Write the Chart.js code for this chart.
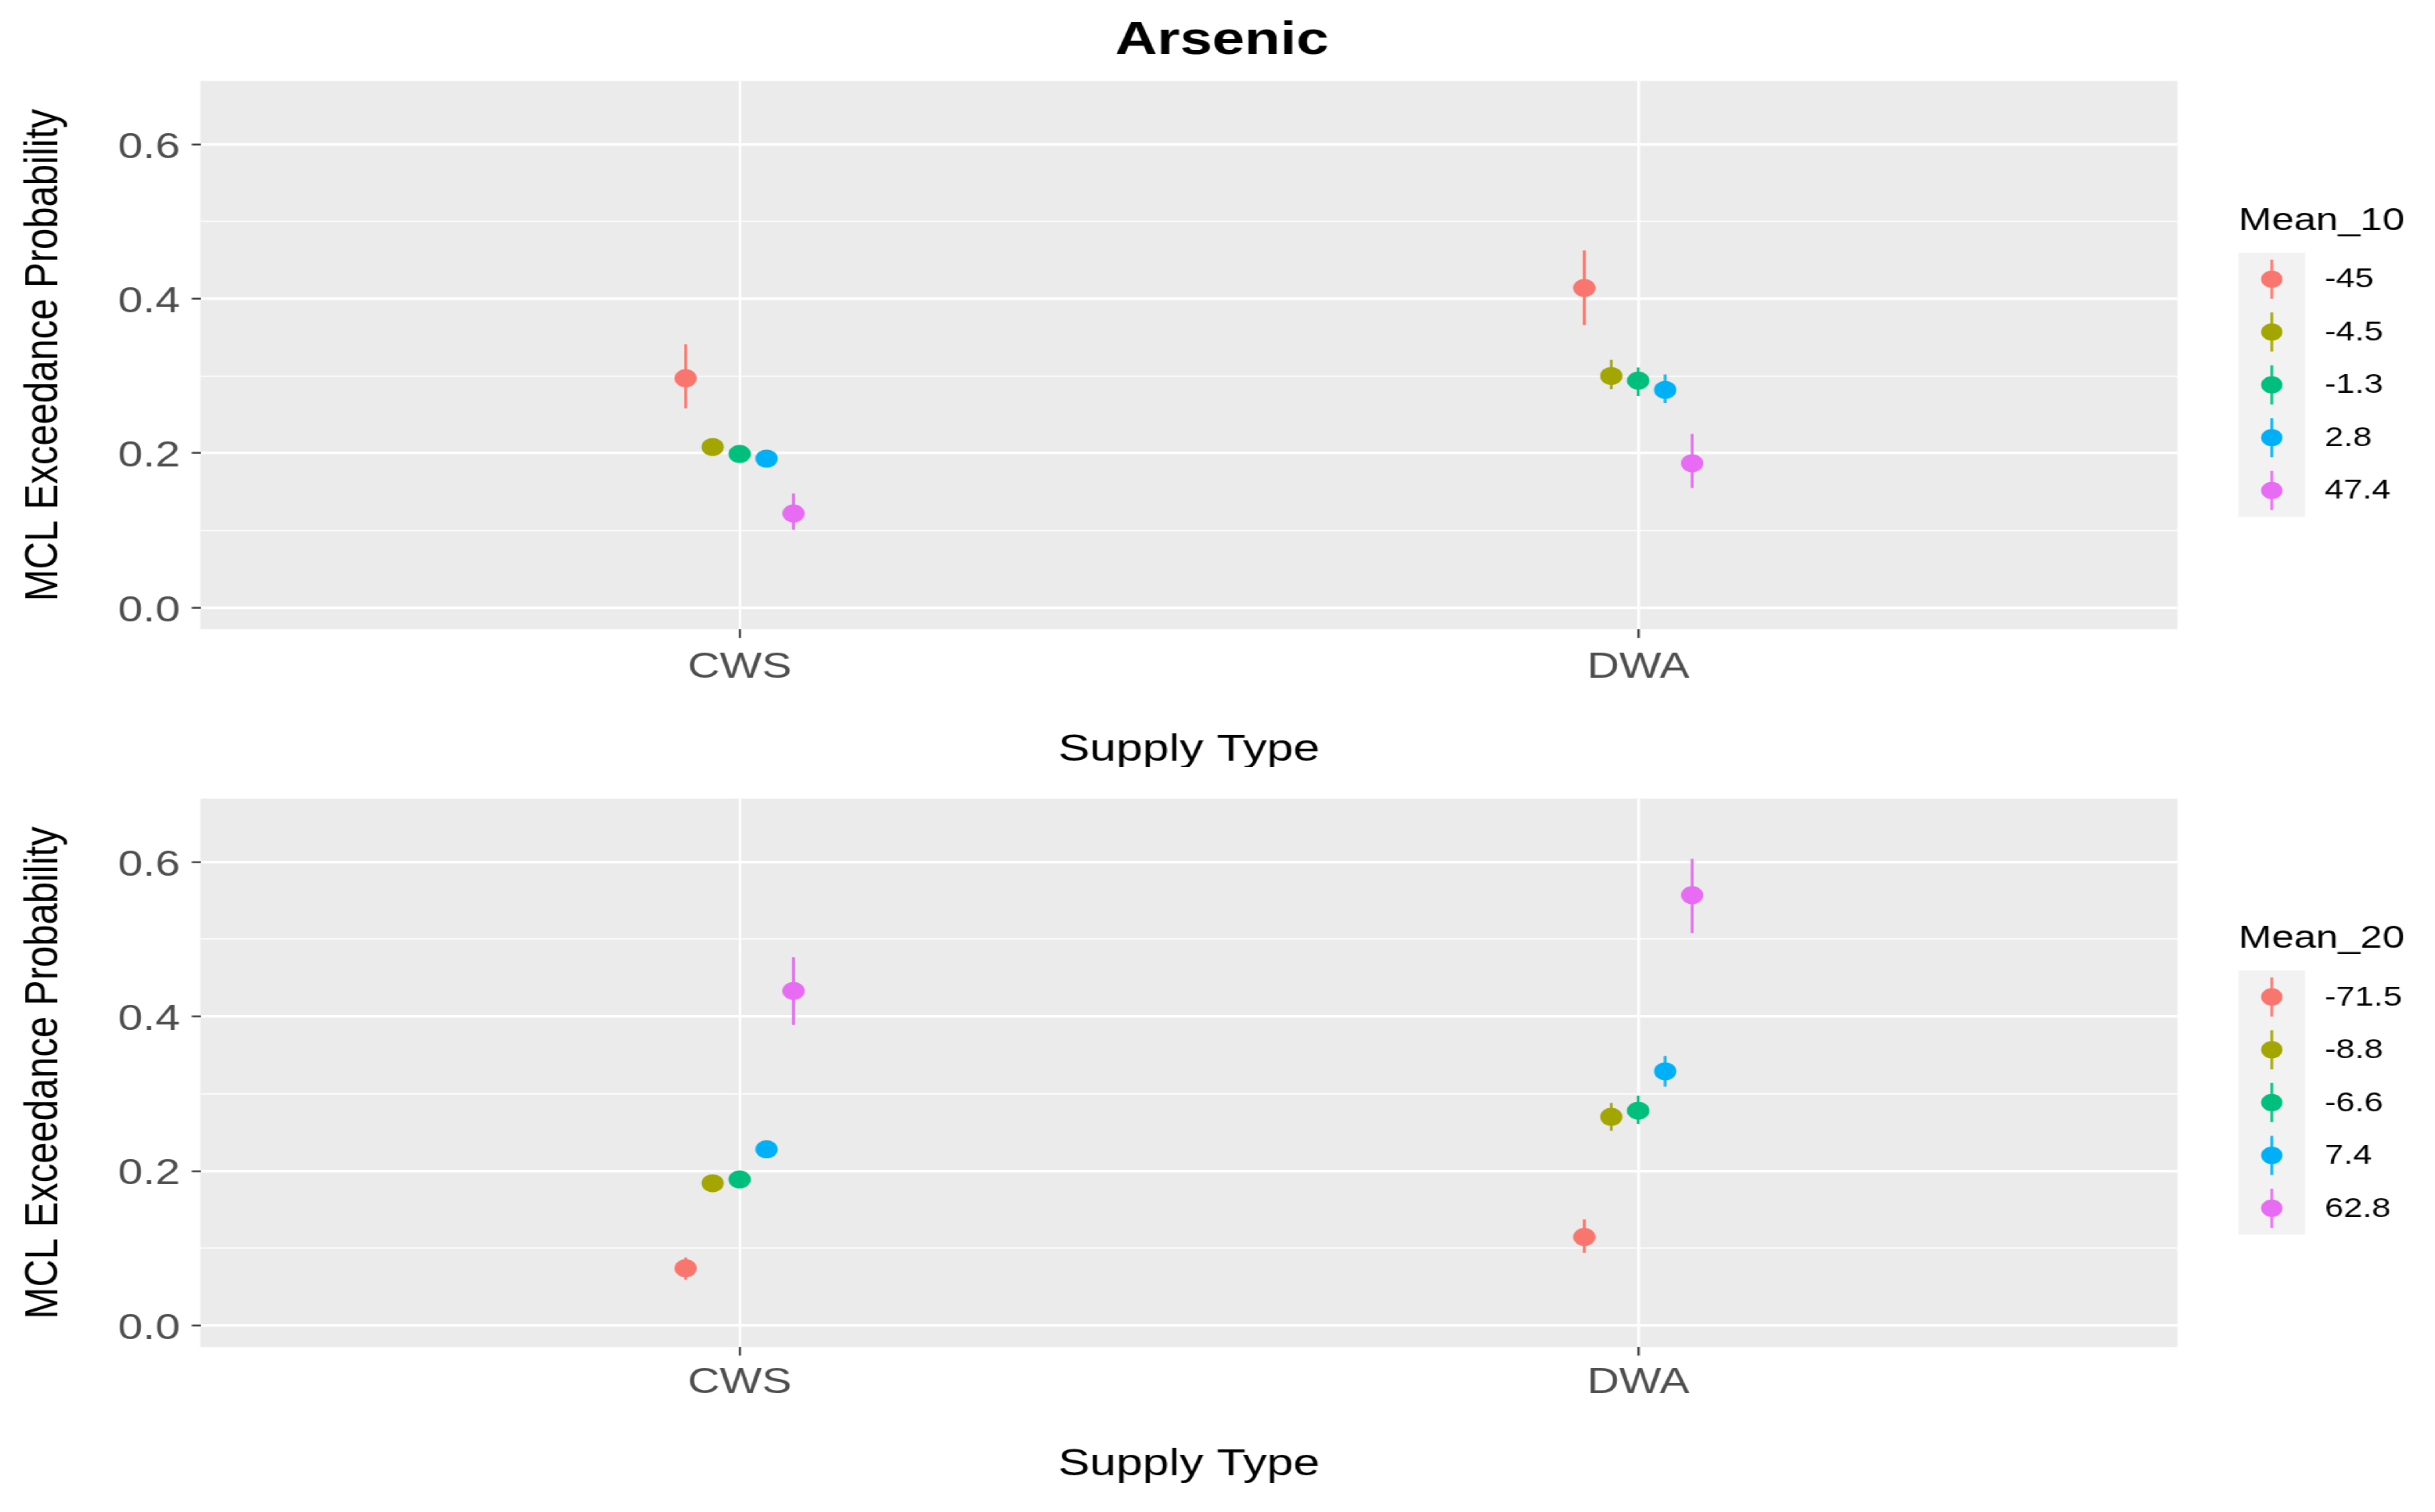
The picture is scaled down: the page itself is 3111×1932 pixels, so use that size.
<!DOCTYPE html>
<html>
<head>
<meta charset="utf-8">
<script src="https://cdn.jsdelivr.net/npm/chart.js@4.4.1/dist/chart.umd.min.js"></script>
<style>
  html, body { margin: 0; padding: 0; background: #ffffff; overflow: hidden; }
  #wrap { position: absolute; left: 0; top: 0; width: 2509px; height: 1932px; transform: scaleX(1.24); transform-origin: 0 0; }
  #c1 { position: absolute; left: 0; top: 0; }
  #c2 { position: absolute; left: 0; top: 980px; }
</style>
</head>
<body>
<div id="wrap">
  <canvas id="c1" width="2509" height="980"></canvas>
  <canvas id="c2" width="2509" height="952"></canvas>
</div>
<script>
// ---------------- data ----------------
const categories = ['CWS', 'DWA'];
const yTicks = [0, 0.1, 0.2, 0.3, 0.4, 0.5, 0.6];
const palette = ['#F8766D', '#A3A500', '#00BF7D', '#00B0F6', '#E76BF3'];

// Mean_10 panel (each row: [CWS, DWA])
const mean10Groups = ['-45', '-4.5', '-1.3', '2.8', '47.4'];
const mean10Est = [[0.297, 0.414], [0.208, 0.300], [0.199, 0.294], [0.193, 0.282], [0.122, 0.187]];
const mean10Lo  = [[0.258, 0.366], [0.200, 0.283], [0.191, 0.274], [0.185, 0.265], [0.101, 0.155]];
const mean10Hi  = [[0.341, 0.4625], [0.216, 0.321], [0.207, 0.311], [0.201, 0.302], [0.148, 0.225]];

// Mean_20 panel (each row: [CWS, DWA])
const mean20Groups = ['-71.5', '-8.8', '-6.6', '7.4', '62.8'];
const mean20Est = [[0.074, 0.1145], [0.184, 0.270], [0.189, 0.278], [0.228, 0.329], [0.433, 0.557]];
const mean20Lo  = [[0.059, 0.094], [0.176, 0.252], [0.181, 0.261], [0.220, 0.309], [0.389, 0.508]];
const mean20Hi  = [[0.088, 0.137], [0.192, 0.288], [0.197, 0.2975], [0.236, 0.349], [0.4765, 0.604]];

// ---------------- helpers ----------------
const FONT = '"Liberation Sans", Arial, Helvetica, sans-serif';
const DODGE = 0.03;

function buildDatasets(groups, est, lo, hi) {
  const ds = [];
  groups.forEach((g, i) => {
    const off = (i - (groups.length - 1) / 2) * DODGE;
    const errData = [];
    categories.forEach((c, j) => {
      errData.push({ x: j + 1 + off, y: lo[i][j] });
      errData.push({ x: j + 1 + off, y: hi[i][j] });
      errData.push({ x: j + 1 + off, y: null });
    });
    ds.push({
      label: g + ' range', data: errData, showLine: true, spanGaps: false,
      borderColor: palette[i], borderWidth: 2.8, pointRadius: 0, order: 2
    });
    ds.push({
      label: g,
      data: categories.map((c, j) => ({ x: j + 1 + off, y: est[i][j] })),
      backgroundColor: palette[i], borderColor: palette[i], borderWidth: 0,
      pointRadius: 11.5, showLine: false, order: 1
    });
  });
  return ds;
}

const panelBg = {
  id: 'panelBg',
  afterLayout(chart) {
    // centre the main title over the whole figure width
    const t = chart.titleBlock;
    if (t && t.options && t.options.display) { t.left = 0; t.right = 2518; t.width = 2518; }
  },
  beforeDraw(chart) {
    const a = chart.chartArea, ctx = chart.ctx;
    ctx.save();
    ctx.fillStyle = '#EBEBEB';
    ctx.fillRect(a.left, a.top, a.right - a.left, a.bottom - a.top);
    ctx.restore();
  }
};

function legendPlugin(title, labels) {
  return {
    id: 'ggLegend',
    afterDraw(chart) {
      const ctx = chart.ctx, top = chart.chartArea.top;
      const x0 = 2306.5, boxW = 68.5, cell = 67.5, y0 = top + 219.6;
      ctx.save();
      ctx.fillStyle = '#F2F2F2';
      ctx.fillRect(x0, y0, boxW, cell * labels.length);
      ctx.fillStyle = '#000000';
      ctx.textAlign = 'left';
      ctx.textBaseline = 'middle';
      ctx.font = '41px ' + FONT;
      ctx.fillText(title, x0, top + 179.3);
      ctx.font = '35px ' + FONT;
      labels.forEach((lab, i) => {
        const cy = y0 + cell * (i + 0.5), cx = x0 + boxW / 2;
        ctx.strokeStyle = palette[i];
        ctx.lineWidth = 2.8;
        ctx.beginPath(); ctx.moveTo(cx, cy - 25); ctx.lineTo(cx, cy + 25); ctx.stroke();
        ctx.fillStyle = palette[i];
        ctx.beginPath(); ctx.arc(cx, cy, 11, 0, Math.PI * 2); ctx.fill();
        ctx.fillStyle = '#000000';
        ctx.fillText(lab, 2395.2, cy + 1);
      });
      ctx.restore();
    }
  };
}

function isMajor(v) { return Math.round(v * 10) % 2 === 0; }

function makeChart(canvasId, groups, est, lo, hi, legendTitle, opts) {
  const canvas = document.getElementById(canvasId);
  return new Chart(canvas, {
    type: 'scatter',
    data: { datasets: buildDatasets(groups, est, lo, hi) },
    plugins: [panelBg, legendPlugin(legendTitle, groups)],
    options: {
      responsive: false, animation: false, devicePixelRatio: 1, events: [],
      layout: { padding: { left: 0, right: 265.5, top: opts.padTop, bottom: 0 } },
      plugins: {
        legend: { display: false },
        tooltip: { enabled: false },
        title: opts.title ? {
          display: true, text: opts.title, color: '#000000',
          font: { family: FONT, size: 60, weight: 'bold' },
          padding: { top: 16, bottom: 15.4 }
        } : { display: false }
      },
      scales: {
        x: {
          type: 'linear', min: 0.4, max: 2.6,
          afterBuildTicks: s => { s.ticks = categories.map((c, j) => ({ value: j + 1 })); },
          afterFit: s => { s.height = opts.xAxisH; },
          ticks: {
            callback: v => categories[Math.round(v) - 1] || '',
            color: '#4D4D4D', font: { family: FONT, size: 46 }, padding: opts.xTickPad, maxRotation: 0, autoSkip: false
          },
          grid: { color: '#FFFFFF', lineWidth: 2.7, tickColor: '#333333', tickLength: 11, tickWidth: 2.2 },
          border: { display: false },
          title: {
            display: true, text: 'Supply Type', color: '#000000',
            font: { family: FONT, size: 49 }, padding: { top: 0, bottom: opts.xTitlePadB }
          }
        },
        y: {
          type: 'linear', min: -0.028, max: 0.682,
          afterBuildTicks: s => { s.ticks = yTicks.map(v => ({ value: v })); },
          afterFit: s => { s.width = 206.5; },
          ticks: {
            callback: v => isMajor(v) ? v.toFixed(1) : '',
            color: '#4D4D4D', font: { family: FONT, size: 46 }, padding: 12, autoSkip: false,
            labelOffset: 4.5
          },
          grid: {
            color: '#FFFFFF',
            lineWidth: c => (c.tick && isMajor(c.tick.value)) ? 3.3 : 1.6,
            tickColor: c => (c.tick && isMajor(c.tick.value)) ? '#333333' : 'rgba(0,0,0,0)',
            tickLength: 9, tickWidth: 2.2
          },
          border: { display: false },
          title: {
            display: true, text: 'MCL Exceedance Probability', color: '#000000',
            font: { family: FONT, size: 49 }, padding: { top: 15.8, bottom: 0 }
          }
        }
      }
    }
  });
}

// top canvas: 0..980 ; panel 103.4..804.1
makeChart('c1', mean10Groups, mean10Est, mean10Lo, mean10Hi, 'Mean_10',
  { title: 'Arsenic', padTop: 0, xAxisH: 980 - 804.1, xTickPad: 11, xTitlePadB: -8 });
// bottom canvas: 980..1932 ; panel 1020.5..1721.2 (local 40.5..741.2)
makeChart('c2', mean20Groups, mean20Est, mean20Lo, mean20Hi, 'Mean_20',
  { title: null, padTop: 40.5, xAxisH: 952 - 741.2, xTickPad: 8, xTitlePadB: 31 });
</script>
</body>
</html>
